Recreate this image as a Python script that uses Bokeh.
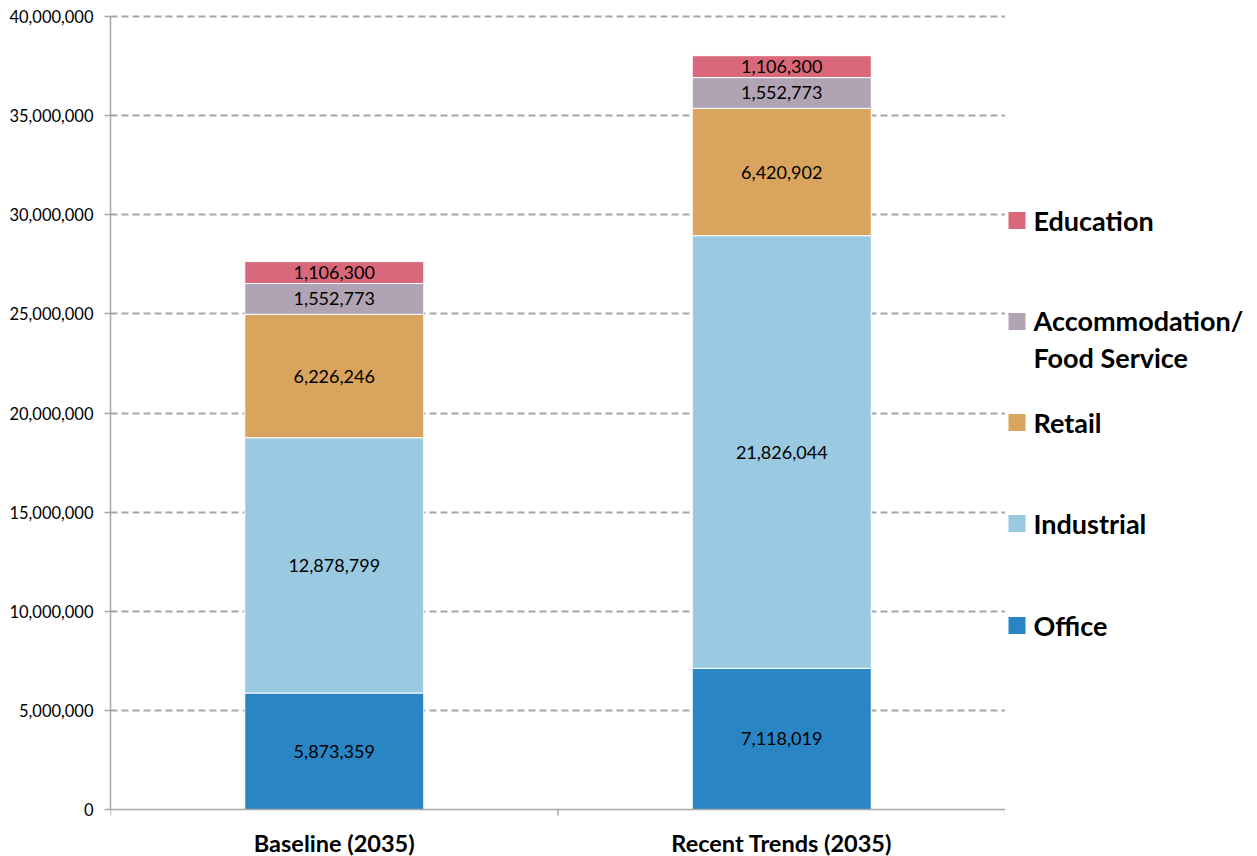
from bokeh.plotting import figure
from bokeh.layouts import row
from bokeh.models import ColumnDataSource, Range1d, FixedTicker, NumeralTickFormatter, Span
from bokeh.core.properties import value
from bokeh.embed import file_html
from bokeh.resources import INLINE

# Scenario columns and floor-space figures by land-use type
scenarios = ["Baseline (2035)", "Recent Trends (2035)"]
office = [5873359, 7118019]
industrial = [12878799, 21826044]
retail = [6226246, 6420902]
accommodation = [1552773, 1552773]
education = [1106300, 1106300]

series_names = ["Office", "Industrial", "Retail", "Accommodation/\nFood Service", "Education"]
series_values = [office, industrial, retail, accommodation, education]
series_colors = ["#2A85C4", "#9ACAE1", "#D8A45E", "#AFA3B4", "#D9687A"]

y_max = 40000000
y_ticks = list(range(0, y_max + 1, 5000000))

FONT = "Lato"
HEIGHT = 856
BORDER_TOP = 14
# pixel rows of the value axis top and of zero
PX_TOP, PX_ZERO = 16, 809
units_per_px = y_max / (PX_ZERO - PX_TOP)
y_start = -(HEIGHT - PX_ZERO) * units_per_px
y_end = y_max + (PX_TOP - BORDER_TOP) * units_per_px

x_pos = [i + 0.5 for i in range(len(scenarios))]
x_edges = list(range(len(scenarios) + 1))

p = figure(width=1005, height=HEIGHT, x_range=Range1d(0, len(scenarios)), y_range=Range1d(y_start, y_end),
           output_backend="svg", toolbar_location=None, x_axis_location=None,
           min_border_left=110, min_border_right=0, min_border_top=BORDER_TOP, min_border_bottom=0)
p.outline_line_color = None
p.background_fill_color = "white"

p.xgrid.visible = False
p.ygrid.ticker = FixedTicker(ticks=y_ticks[1:])
p.ygrid.grid_line_color = "#A6A6A6"
p.ygrid.grid_line_width = 2
p.ygrid.grid_line_dash = "7 4"

# stacked bars with value labels centred in each segment
bottoms = [0] * len(scenarios)
label_x, label_y, label_t = [], [], []
for name, vals, col in zip(series_names, series_values, series_colors):
    tops = [b + v for b, v in zip(bottoms, vals)]
    src = ColumnDataSource(dict(x=x_pos, bottom=bottoms, top=tops))
    p.vbar(x="x", bottom="bottom", top="top", width=0.4, source=src,
           fill_color=col, line_color="white", line_width=1)
    for xi, b, t, v in zip(x_pos, bottoms, tops, vals):
        label_x.append(xi)
        label_y.append((b + t) / 2)
        label_t.append(f"{v:,}")
    bottoms = tops

p.text(x=label_x, y=label_y, text=label_t, text_align="center", text_baseline="middle",
       text_font=value(FONT), text_font_size="18px", text_color="#000000")

# category axis: baseline, separator ticks and scenario names
p.add_layout(Span(location=0, dimension="width", line_color="#A6A6A6", line_width=1.5))
p.segment(x0=x_edges, y0=[0] * len(x_edges), x1=x_edges, y1=[-6 * units_per_px] * len(x_edges),
          line_color="#A6A6A6", line_width=1.5)
p.text(x=x_pos, y=[-33 * units_per_px] * len(x_pos), text=scenarios, text_align="center",
       text_baseline="middle", text_font=value(FONT), text_font_size="23.5px",
       text_font_style="bold", text_color="#000000")

# value axis
p.yaxis.bounds = (0, y_max)
p.yaxis.ticker = FixedTicker(ticks=y_ticks)
p.yaxis.formatter = NumeralTickFormatter(format="0,0")
p.yaxis.major_label_text_font = FONT
p.yaxis.major_label_text_font_size = "16.5px"
p.yaxis.major_label_text_color = "#000000"
p.yaxis.axis_line_color = "#A6A6A6"
p.yaxis.axis_line_width = 1.5
p.yaxis.major_tick_line_color = "#A6A6A6"
p.yaxis.major_tick_line_width = 1.5
p.yaxis.major_tick_out = 6
p.yaxis.major_tick_in = 0
p.yaxis.minor_tick_line_color = None
p.yaxis.major_label_standoff = 11

# legend panel, drawn in pixel coordinates of its own frame
leg_names = list(reversed(series_names))
leg_colors = list(reversed(series_colors))
leg_y = [220, 321, 422, 523, 625]
LEG_SIZE = 27
LINE_PX = 37
leg_text_y = [y + n.count("\n") * (LINE_PX - 2) / 2 for y, n in zip(leg_y, leg_names)]

lg = figure(width=252, height=HEIGHT, x_range=Range1d(0, 252), y_range=Range1d(HEIGHT, BORDER_TOP),
            output_backend="svg", toolbar_location=None,
            x_axis_location=None, y_axis_location=None,
            min_border_left=0, min_border_right=0, min_border_top=BORDER_TOP, min_border_bottom=0)
lg.outline_line_color = None
lg.xgrid.visible = False
lg.ygrid.visible = False
lg.scatter(x=[11.5] * len(leg_y), y=leg_y, marker="square", size=17, fill_color=leg_colors, line_color=None)
lg.text(x=[28] * len(leg_y), y=leg_text_y, text=leg_names, text_align="left", text_baseline="middle",
        text_font=value(FONT), text_font_size=f"{LEG_SIZE}px", text_font_style="bold", text_color="#000000",
        text_line_height=LINE_PX / (LEG_SIZE * 1.2))

layout = row(p, lg, spacing=0)
open("out.html", "w").write(file_html(layout, INLINE))
